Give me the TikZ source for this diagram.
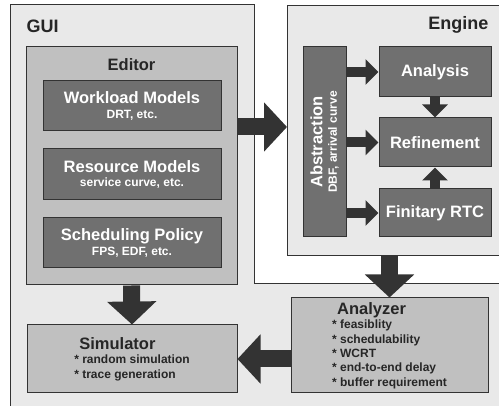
\documentclass[tikz,border=0pt]{standalone}
\usepackage{fontspec}
\setmainfont{Liberation Sans}
\usetikzlibrary{arrows.meta}

\definecolor{bgGray}{HTML}{E9E9E9}
\definecolor{midGray}{HTML}{C0C0C0}
\definecolor{darkGray}{HTML}{707070}
\definecolor{lineGray}{HTML}{333333}

\newcommand{\headfnt}{\bfseries\fontsize{18}{20}\selectfont}
\newcommand{\bigfnt}{\bfseries\fontsize{16.5}{18}\selectfont}
\newcommand{\smallfnt}{\bfseries\fontsize{12}{13}\selectfont}
\newcommand{\listfnt}{\bfseries\fontsize{12}{14.4}\selectfont}

\begin{document}
\begin{tikzpicture}[x=1pt, y=-1pt, font=\listfnt,
  panel/.style={draw=lineGray, line width=1pt, fill=bgGray},
  midbox/.style={draw=lineGray, line width=1pt, fill=midGray, text=black!85, inner sep=0pt},
  darkbox/.style={draw=lineGray, line width=1pt, fill=darkGray, text=white, align=center, inner sep=0pt},
  bigarrow/.style={draw=lineGray, line width=17pt, -{Triangle[length=23pt, width=48pt]}},
  smallarrow/.style={draw=lineGray, line width=10pt, -{Triangle[length=13pt, width=25pt]}}]
\clip (0,0) rectangle (499,406);
\fill[white] (0,0) rectangle (499,406);

% GUI and Engine panels
\path[panel] (10,5) -- (254,5) -- (254,284) -- (520,284) -- (520,420) -- (10,420) -- cycle;
\node[anchor=west, font=\headfnt, text=black!85] (guititle) at (23,26) {GUI};
\node[panel, inner sep=0pt, minimum width=230pt, minimum height=250pt, anchor=north west] (engine) at (287,5) {};
\node[anchor=east, font=\headfnt, text=black!85] (enginetitle) at (492,25) {Engine};

% Editor
\node[midbox, minimum width=211pt, minimum height=238pt] (editor) at (131.5,166) {};
\node[font=\bigfnt, text=black!85] (editortitle) at (131.5,65) {Editor};
\node[darkbox, minimum width=178pt, minimum height=50pt] (workload) at (132,106) {{\bigfnt Workload Models}\\{\smallfnt DRT, etc.}};
\node[darkbox, minimum width=178pt, minimum height=51pt] (resource) at (132,174.5) {{\bigfnt Resource Models}\\{\smallfnt service curve, etc.}};
\node[darkbox, minimum width=178pt, minimum height=50pt] (policy) at (132,243) {{\bigfnt Scheduling Policy}\\{\smallfnt FPS, EDF, etc.}};

% Engine contents
\node[darkbox, minimum width=43pt, minimum height=190pt] (abstraction) at (324.5,142) {};
\node[rotate=90, text=white, align=center, inner sep=0pt] (abstrtext) at (abstraction.center) {{\bigfnt Abstraction}\\{\smallfnt DBF, arrival curve}};
\node[darkbox, minimum width=112pt, minimum height=50pt, font=\bigfnt] (analysis) at (435,72) {Analysis};
\node[darkbox, minimum width=112pt, minimum height=49pt, font=\bigfnt] (refinement) at (435,142.5) {Refinement};
\node[darkbox, minimum width=112pt, minimum height=48pt, font=\bigfnt] (finitary) at (435,213) {Finitary RTC};

% Simulator and Analyzer
\node[midbox, minimum width=210pt, minimum height=68pt, align=left] (simulator) at (132,359) {\hspace*{5pt}{\bigfnt Simulator}\\ * random simulation\\ * trace generation};
\node[midbox, minimum width=197pt, minimum height=95pt, align=left] (analyzer) at (389.5,345.5) {\hspace*{5pt}{\bigfnt Analyzer}\\ * feasiblity\\ * schedulability\\ * WCRT\\ * end-to-end delay\\ * buffer requirement};

% arrows
\coordinate (e2e) at (0,127);
\draw[bigarrow] (editor.east |- e2e) -- (engine.west |- e2e);
\draw[bigarrow] (editor.south) -- (simulator.north);
\draw[bigarrow] (analyzer.north |- engine.south) -- (analyzer.north);
\draw[bigarrow] (analyzer.west |- simulator.east) -- (simulator.east);
\draw[smallarrow] (abstraction.east |- analysis.west) -- (analysis.west);
\draw[smallarrow] (abstraction.east |- refinement.west) -- (refinement.west);
\draw[smallarrow] (abstraction.east |- finitary.west) -- (finitary.west);
\draw[smallarrow] (analysis.south) -- (refinement.north);
\draw[smallarrow] (finitary.north) -- (refinement.south);
\end{tikzpicture}
\end{document}
